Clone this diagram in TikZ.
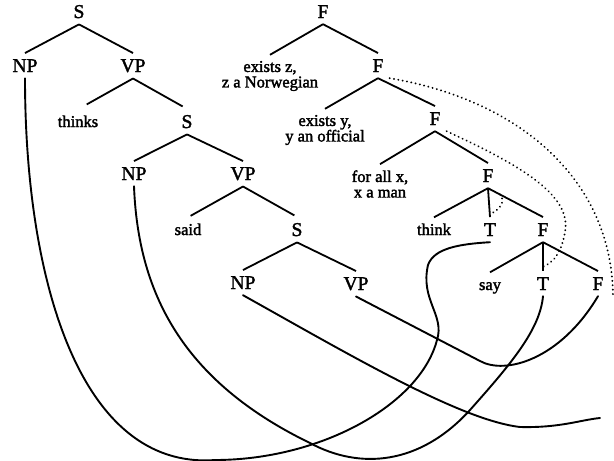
\documentclass[tikz,border=0pt]{standalone}
\usepackage{fontspec}
\setmainfont{Liberation Serif}[RawFeature={embolden=2}]
\begin{document}
\begin{tikzpicture}[x=1pt,y=-1pt,
  cat/.style={font=\fontsize{19.5}{20}\selectfont, inner sep=6pt, anchor=base},
  word/.style={font=\fontsize{16.5}{15.5}\selectfont, inner sep=6pt, anchor=base, text height=11.5pt},
  quant/.style={font=\fontsize{16.5}{15.5}\selectfont, inner sep=6pt, align=center},
  limb/.style={line width=1.8pt},
  link/.style={line width=1.9pt, line cap=round},
  scopeline/.style={line width=2pt, dash pattern=on 0.1pt off 4.3pt, line cap=round}]
\useasboundingbox (0,0) rectangle (614,461);

% syntactic tree
\node[cat]  (S0)     at (79,18)   {S};
\node[cat]  (NP1)    at (25,72)   {NP};
\node[cat]  (VP1)    at (133,72)  {VP};
\node[word] (thinks) at (78,127)  {thinks};
\node[cat]  (S2)     at (187,128) {S};
\node[cat]  (NP2)    at (134,180) {NP};
\node[cat]  (VP2)    at (243,180) {VP};
\node[word] (said)   at (188,235) {said};
\node[cat]  (S3)     at (297,236) {S};
\node[cat]  (NP3)    at (243,289) {NP};
\node[cat]  (VP3)    at (356,290) {VP};

\draw[limb] (S0.south) -- (NP1.north);
\draw[limb] (S0.south) -- (VP1.north);
\draw[limb,shorten >=10pt] (VP1.south) -- (thinks.north);
\draw[limb,shorten >=5pt] (VP1.south) -- (S2.north);
\draw[limb] (S2.south) -- (NP2.north);
\draw[limb] (S2.south) -- (VP2.north);
\draw[limb,shorten >=3pt] (VP2.south) -- (said.north);
\draw[limb,shorten >=3pt] (VP2.south) -- (S3.north);
\draw[limb] (S3.south) -- (NP3.north);
\draw[limb] (S3.south) -- (VP3.north);

% logical form
\node[cat]   (F1)    at (323,18)  {F};
\node[quant] (Q1)    at (270,76)  {exists z,\\z a Norwegian};
\node[cat]   (F2)    at (378,72)  {F};
\node[quant] (Q2)    at (325,130) {exists y,\\y an official};
\node[cat]   (F3)    at (435,125) {F};
\node[quant] (Q3)    at (380,184) {for all x,\\x a man};
\node[cat]   (F4)    at (488,182) {F};
\node[word]  (think) at (434,235) {think};
\node[cat]   (T1)    at (490,236) {T};
\node[cat]   (F5)    at (543,236) {F};
\node[word]  (say)   at (490,290) {say};
\node[cat]   (T2)    at (543,290) {T};
\node[cat]   (F6)    at (598,290) {F};

\draw[limb] (F1.south) -- (Q1.north);
\draw[limb] (F1.south) -- (F2.north);
\draw[limb] (F2.south) -- (Q2.north);
\draw[limb] (F2.south) -- (F3.north);
\draw[limb] (F3.south) -- (Q3.north);
\draw[limb] (F3.south) -- (F4.north);
\draw[limb] (F4.south) -- (think.north);
\draw[limb] (F4.south) -- (T1.north) coordinate[pos=0.9] (m4);
\draw[limb] (F4.south) -- (F5.north) coordinate[pos=0.22] (r4);
\draw[limb] (F5.south) -- (say.north);
\draw[limb] (F5.south) -- (T2.north) coordinate[pos=0.85] (m5);
\draw[limb] (F5.south) -- (F6.north);

% scope arcs
\coordinate (zEnd) at (613,296);
\draw[scopeline] (F2.south east) .. controls (520,100) and (612,180) .. (zEnd);
\draw[scopeline] (F3.south east) .. controls (520,165) and (572,195) .. (565,232)
                 .. controls (562,250) and (555,262) .. (m5);
\draw[scopeline] (r4) .. controls (506,201) and (500,210) .. (m4);

% correspondence links
\coordinate (xEnd) at (600,418);
\draw[link] (NP1.south) .. controls (25,280) and (80,470) .. (215,460)
            .. controls (320,460) and (420,405) .. (437,340)
            .. controls (445,315) and (420,300) .. (428,265)
            .. controls (434,248) and (460,244) .. (T1.south);
\draw[link] (NP2.south) .. controls (138,290) and (180,380) .. (310,443)
            .. controls (360,470) and (420,465) .. (470,410)
            .. controls (510,365) and (540,330) .. (T2.south);
\draw[link] (NP3.south) .. controls (350,355) and (460,420) .. (520,427)
            .. controls (560,428) and (580,420) .. (xEnd);
\draw[link] (VP3.south) -- (480,361) .. controls (505,375) and (560,360) .. (F6.south);
\end{tikzpicture}
\end{document}
